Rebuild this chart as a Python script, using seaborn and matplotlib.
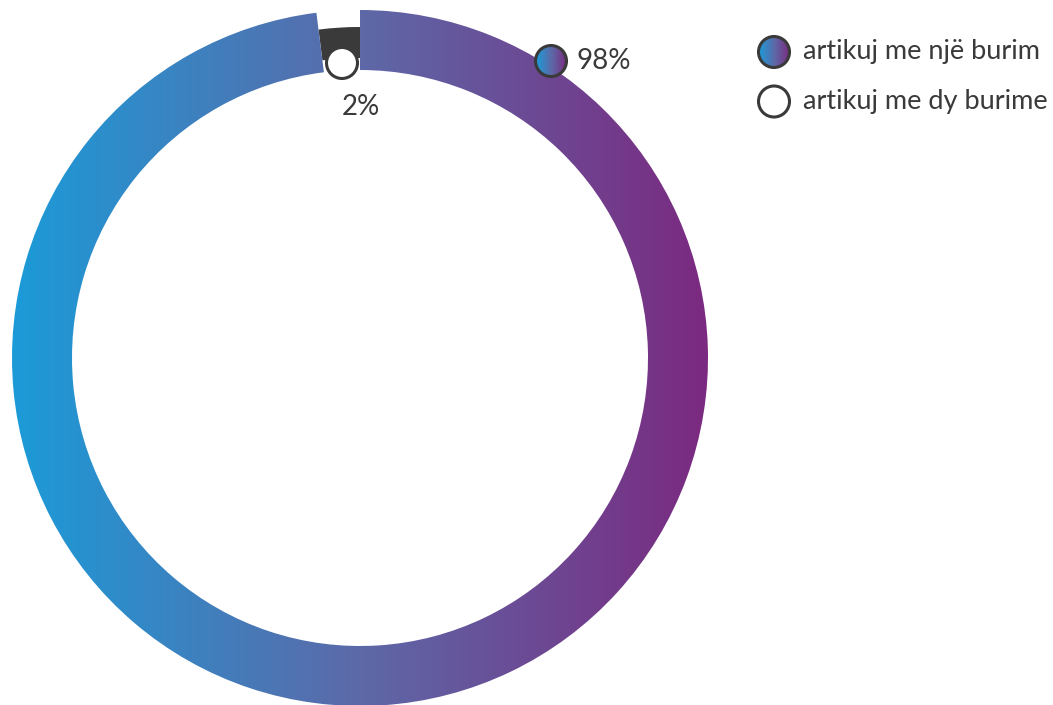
import numpy as np
import matplotlib
matplotlib.use("Agg")
import matplotlib.pyplot as plt
from matplotlib.patches import Circle
import seaborn as sns

labels = ["artikuj me një burim", "artikuj me dy burime"]
values = [98, 2]
pct_labels = ["98%", "2%"]

sns.set_theme(style="white")
plt.rcParams['font.family'] = ['Lato', 'DejaVu Sans']

W, H = 1053, 705
fig = plt.figure(figsize=(W / 100, H / 100), dpi=100)
ax = fig.add_axes([0, 0, 1, 1])

cmap = sns.blend_palette(["#1b9bd8", "#5d69a8", "#7b2a80"], as_cmap=True)
grad = np.linspace(0, 1, 512).reshape(1, -1)
dark = "#3a3a3a"
txt = "#3a3a3a"

cx, cy = 360, H - 358
R = 348
wedges, _ = ax.pie(values, startangle=90, counterclock=False, radius=R,
                   center=(cx, cy), wedgeprops=dict(width=60, linewidth=0),
                   colors=["none", dark], frame=True)
# small share drawn a bit thinner, inside the ring
wedges[1].set_radius(331)
wedges[1].set_width(31)

img = ax.imshow(grad, cmap=cmap, extent=(cx - R, cx + R, cy - R, cy + R),
                aspect="auto", zorder=1)
img.set_clip_path(wedges[0])


def grad_circle(x, y, r=15.5):
    c = Circle((x, y), r, facecolor="none", edgecolor=dark, lw=2.2, zorder=5)
    ax.add_patch(c)
    im = ax.imshow(grad, cmap=cmap, extent=(x - r, x + r, y - r, y + r),
                   aspect="auto", zorder=4)
    im.set_clip_path(c)


def white_circle(x, y, r=15.5):
    ax.add_patch(Circle((x, y), r, facecolor="white", edgecolor=dark,
                        lw=2.2, zorder=5))


# slice labels
grad_circle(551, H - 61)
ax.text(577, H - 61, pct_labels[0], fontsize=20, color=txt,
        va="center", ha="left")
white_circle(342, H - 63)
ax.text(361, H - 107, pct_labels[1], fontsize=20, color=txt,
        va="center", ha="center")

# legend
grad_circle(774, H - 52)
white_circle(774, H - 101.5)
for lab, yy in zip(labels, [52, 101.5]):
    ax.text(803, H - yy, lab, fontsize=19.5, color=txt,
            va="center", ha="left")

ax.set_xlim(0, W)
ax.set_ylim(0, H)
ax.set_aspect("equal")
ax.axis("off")

fig.savefig("out.png", dpi=100)
